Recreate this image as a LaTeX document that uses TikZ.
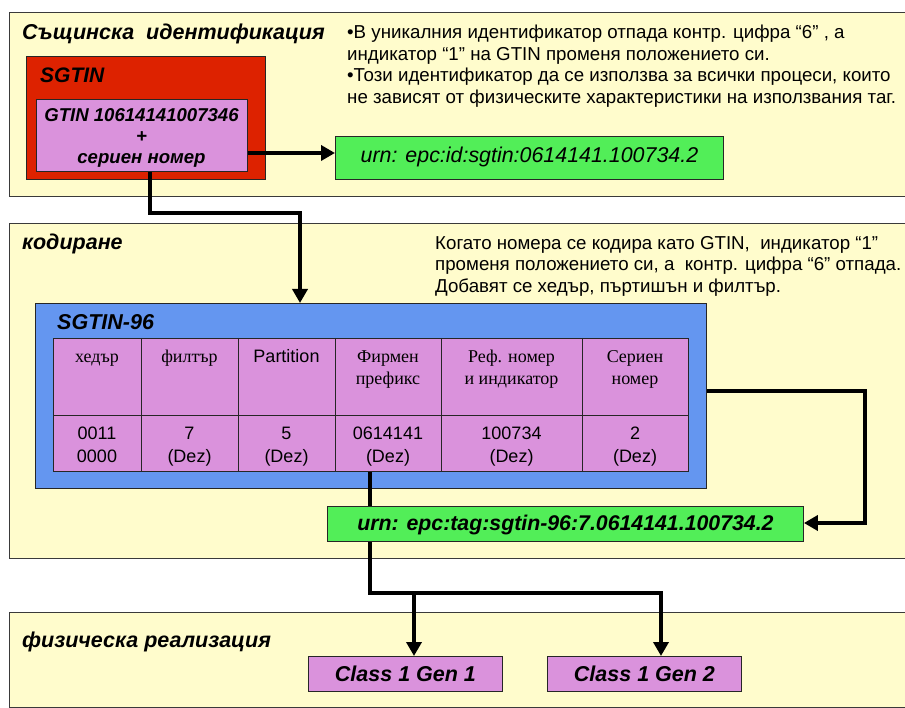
\documentclass[tikz,border=0pt]{standalone}
\usepackage{fontspec}
\setmainfont{Liberation Sans}
\newfontfamily\tnrfont{Liberation Serif}
\usetikzlibrary{arrows.meta}
\definecolor{panelc}{HTML}{FFFCCC}
\definecolor{redc}{HTML}{DD2200}
\definecolor{pinkc}{HTML}{DA92DC}
\definecolor{greenc}{HTML}{52EE58}
\definecolor{bluec}{HTML}{6496F0}
\definecolor{edgec}{HTML}{3A3A3A}
\begin{document}
\begin{tikzpicture}[x=1pt,y=-1pt,
  panelbox/.style={draw=edgec, line width=1pt, fill=panelc, inner sep=0pt, anchor=north west},
  boxc/.style={draw=black!85, line width=0.9pt, inner sep=0pt, anchor=north west},
  wire/.style={line width=4pt, draw=black},
  tip/.style={-{Triangle[length=14pt,width=15pt]}},
  ttlf/.style={font=\fontsize{21.5}{24}\selectfont\bfseries\itshape, inner sep=0pt, anchor=base west},
  bodyt/.style={font=\fontsize{18.7}{21.6}\selectfont, inner sep=0pt, anchor=north west, align=left},
  hdr/.style={font=\fontsize{18}{22.5}\selectfont\tnrfont, inner sep=0pt, anchor=base, align=center},
  val/.style={font=\fontsize{18}{23.4}\selectfont, inner sep=0pt, anchor=base, align=center},
  gridl/.style={line width=0.9pt, draw=black!85},
]
\useasboundingbox (0,0) rectangle (905,708);

% panels
\node[panelbox, minimum width=901pt, minimum height=184pt] (p1) at (9,12) {};
\node[panelbox, minimum width=901pt, minimum height=335pt] (p2) at (9,223) {};
\node[panelbox, minimum width=901pt, minimum height=94.5pt] (p3) at (9,612) {};

% top section
\node[ttlf] (t1) at (22,40) {Същинска~ идентификация};
\node[boxc, fill=redc, minimum width=239pt, minimum height=123pt] (red) at (26,56) {};
\node[ttlf, font=\fontsize{21}{24}\selectfont\bfseries\itshape] (sg) at (40,83) {SGTIN};
\node[boxc, fill=pinkc, minimum width=211pt, minimum height=72pt] (pk) at (36,99) {};
\node[align=center, inner sep=0pt, font=\fontsize{18.6}{21}\selectfont\bfseries\itshape] (pkt) at (141.5,138)
      {GTIN 10614141007346\\+\\сериен номер};
\node[boxc, fill=greenc, minimum width=388pt, minimum height=43pt,
      font=\fontsize{21.4}{24}\selectfont\itshape, text height=9.6pt, text depth=0pt] (g1) at (335,136)
      {urn: epc:id:sgtin:0614141.100734.2};
\coordinate (a1) at (247,153);
\draw[wire, tip] (pk.east |- a1) -- (g1.west |- a1);
\node[bodyt] (bt) at (347,25) {•В уникалния идентификатор отпада контр. цифра “6” , а\\индикатор “1” на GTIN променя положението си.\\•Този идентификатор да се използва за всички процеси, които\\не зависят от физическите характеристики на използвания таг.};

% middle section
\node[ttlf] (t2) at (22,250) {кодиране};
\node[bodyt] (mt) at (435,236) {Когато номера се кодира като GTIN,~ индикатор “1”\\променя положението си, а~ контр. цифра “6” отпада.\\Добавят се хедър, пъртишън и филтър.};

\node[boxc, fill=bluec, minimum width=671pt, minimum height=185pt] (blue) at (35,303) {};
\node[ttlf] (s96) at (57,330) {SGTIN-96};
\node[boxc, fill=pinkc, minimum width=635pt, minimum height=133pt] (tab) at (53,338) {};
\foreach \cx in {141,238,335,441,582} \draw[gridl] (\cx,338) -- (\cx,471);
\draw[gridl] (53,415) -- (688,415);

\node[hdr] (h1) at (97,363) {хедър};
\node[hdr] (h2) at (189.5,363) {филтър};
\node[hdr, font=\fontsize{18}{22}\selectfont] (h3) at (286.5,363) {Partition};
\node[hdr] (h4) at (388,385) {Фирмен\\префикс};
\node[hdr] (h5) at (511.5,385) {Реф. номер\\и индикатор};
\node[hdr] (h6) at (635,385) {Сериен\\номер};

\node[val] (v1) at (97,462.7) {0011\\0000};
\node[val] (v2) at (189.5,462.7) {7\\(Dez)};
\node[val] (v3) at (286.5,462.7) {5\\(Dez)};
\node[val] (v4) at (388,462.7) {0614141\\(Dez)};
\node[val] (v5) at (511.5,462.7) {100734\\(Dez)};
\node[val] (v6) at (635,462.7) {2\\(Dez)};

% connector top -> blue
\coordinate (c1a) at (150,213);
\coordinate (c1b) at (300,213);
\draw[wire, tip] (pk.south -| c1a) -- (c1a) -- (c1b) -- (c1b |- blue.north);

% bottom section
\node[ttlf] (t3) at (22,647) {физическа реализация};
\node[boxc, fill=pinkc, minimum width=194pt, minimum height=35pt,
      font=\fontsize{21.5}{24}\selectfont\bfseries\itshape] (cl1) at (308,656) {Class 1 Gen 1};
\node[boxc, fill=pinkc, minimum width=194pt, minimum height=35pt,
      font=\fontsize{21.5}{24}\selectfont\bfseries\itshape] (cl2) at (547,656) {Class 1 Gen 2};

\coordinate (br) at (370,593);
\coordinate (x1) at (414,593);
\coordinate (x2) at (661,593);
\draw[wire, tip] (tab.south -| br) -- (br) -- (x2) -- (x2 |- cl2.north);
\draw[wire, tip] (x1) -- (x1 |- cl1.north);

\node[boxc, fill=greenc, minimum width=476pt, minimum height=35pt,
      font=\fontsize{21.3}{24}\selectfont\bfseries\itshape, text height=14pt, text depth=0pt] (g2) at (327,506)
      {urn: epc:tag:sgtin-96:7.0614141.100734.2};

\coordinate (r1) at (865,391);
\coordinate (r2) at (865,523);
\draw[wire, tip] (blue.east |- r1) -- (r1) -- (r2) -- (g2.east |- r2);
\end{tikzpicture}
\end{document}
